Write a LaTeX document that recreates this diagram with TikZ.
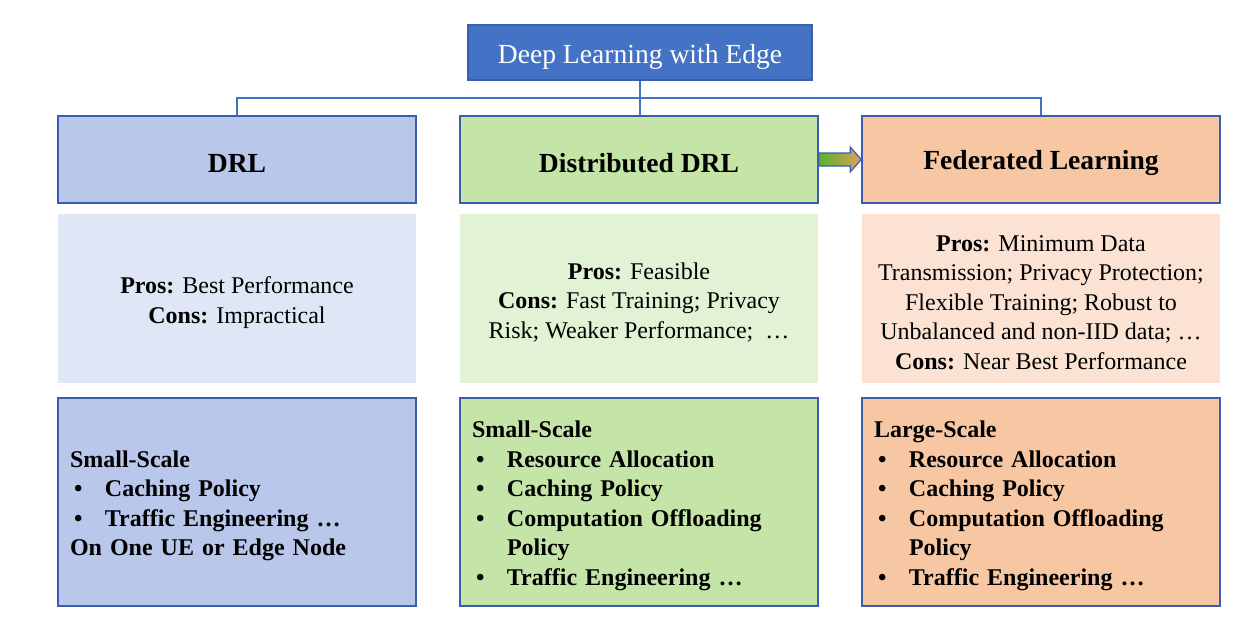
\documentclass[tikz,border=0pt]{standalone}
\usepackage{fontspec}
\setmainfont{Liberation Serif}
\usepackage{xcolor}
\usetikzlibrary{calc}

\definecolor{edgeblue}{HTML}{4472C4}
\definecolor{edgedark}{HTML}{3A5DAE}
\definecolor{drlfill}{HTML}{B8C7EA}
\definecolor{ddrlfill}{HTML}{C5E5A8}
\definecolor{flfill}{HTML}{F7C6A2}
\definecolor{drllight}{HTML}{DFE6F5}
\definecolor{ddrllight}{HTML}{E2F2D5}
\definecolor{fllight}{HTML}{FBE2D3}
\definecolor{arrgreen}{HTML}{5BB030}
\definecolor{arrorange}{HTML}{DDA15C}

\newcommand{\itm}[1]{\makebox[17.5pt][l]{\hspace{2pt}\textbullet}#1}
\newcommand{\itmcont}[1]{\hspace*{17.5pt}#1}

\begin{document}
\begin{tikzpicture}[
  x=0.5pt, y=-0.5pt,
  title/.style={draw=edgedark, line width=0.75pt, fill=edgeblue,
                minimum width=172pt, minimum height=27.5pt, inner sep=0pt},
  titletxt/.style={text=white, yshift=-2pt, font=\fontsize{13.8}{16}\selectfont},
  hdr/.style={draw=edgedark, line width=0.75pt, minimum width=179pt, minimum height=43.5pt,
              inner sep=0pt},
  hdrtxt/.style={yshift=-1.75pt, font=\fontsize{13.8}{16}\selectfont\bfseries},
  info/.style={minimum width=179pt, minimum height=84.5pt, inner sep=0pt},
  infotxt/.style={yshift=-2pt, inner sep=0pt, align=center,
                  font=\fontsize{12}{14.75}\selectfont},
  detail/.style={draw=edgedark, line width=0.75pt, minimum width=179pt, minimum height=104pt,
                 inner sep=0pt},
  detailtxt/.style={yshift=-2pt, text width=167pt, inner sep=0pt, align=left,
                    font=\fontsize{12}{14.75}\selectfont\bfseries},
  conn/.style={draw=edgeblue, line width=1pt}
]
\useasboundingbox (0,0) rectangle (1260,633);

%% Root
\node[title, label={[titletxt]center:Deep Learning with Edge}] (root) at (640,52.5) {};

%% Row 1: approaches
\node[hdr, fill=drlfill,  label={[hdrtxt]center:DRL}]                (drl)  at (237,159.5)  {};
\node[hdr, fill=ddrlfill, label={[hdrtxt]center:Distributed DRL}]    (ddrl) at (639,159.5)  {};
\node[hdr, fill=flfill,   label={[hdrtxt]center:Federated Learning}] (fl)   at (1041,159.5) {};

%% Tree connectors
\coordinate (bus) at (640,98);
\draw[conn] (root.south) -- (root.south |- ddrl.north);
\draw[conn] (drl.north) |- (bus) -| (fl.north);

%% Block arrow DDRL -> FL
\draw[left color=arrgreen, right color=arrorange, draw=edgedark, line width=0.6pt]
  ([yshift=3.25pt]ddrl.east) -- ([xshift=-5.5pt,yshift=3.25pt]fl.west)
  -- ([xshift=-5.5pt,yshift=6.25pt]fl.west) -- (fl.west)
  -- ([xshift=-5.5pt,yshift=-6.25pt]fl.west) -- ([xshift=-5.5pt,yshift=-3.25pt]fl.west)
  -- ([yshift=-3.25pt]ddrl.east) -- cycle;

%% Row 2: pros and cons
\node[info, fill=drllight, label={[infotxt]center:{%
  \textbf{Pros:} Best Performance\\ \textbf{Cons:} Impractical}}] (drlpc) at (237,298.5) {};
\node[info, fill=ddrllight, label={[infotxt]center:{%
  \textbf{Pros:} Feasible\\ \textbf{Cons:} Fast Training; Privacy\\
  Risk; Weaker Performance;\ \ …}}] (ddrlpc) at (639,298.5) {};
\node[info, fill=fllight, label={[infotxt]center:{%
  \textbf{Pros:} Minimum Data\\ Transmission; Privacy Protection;\\ Flexible Training; Robust to\\
  Unbalanced and non-IID data; …\\ \textbf{Cons:} Near Best Performance}}] (flpc) at (1041,298.5) {};

%% Row 3: use cases
\node[detail, fill=drlfill, label={[detailtxt]center:{%
  Small-Scale\\ \itm{Caching Policy}\\ \itm{Traffic Engineering …}\\
  On One UE or Edge Node}}] (drluse) at (237,502) {};
\node[detail, fill=ddrlfill, label={[detailtxt]center:{%
  Small-Scale\\ \itm{Resource Allocation}\\ \itm{Caching Policy}\\ \itm{Computation Offloading}\\
  \itmcont{Policy}\\ \itm{Traffic Engineering …}}}] (ddrluse) at (639,502) {};
\node[detail, fill=flfill, label={[detailtxt]center:{%
  Large-Scale\\ \itm{Resource Allocation}\\ \itm{Caching Policy}\\ \itm{Computation Offloading}\\
  \itmcont{Policy}\\ \itm{Traffic Engineering …}}}] (fluse) at (1041,502) {};

\end{tikzpicture}
\end{document}
